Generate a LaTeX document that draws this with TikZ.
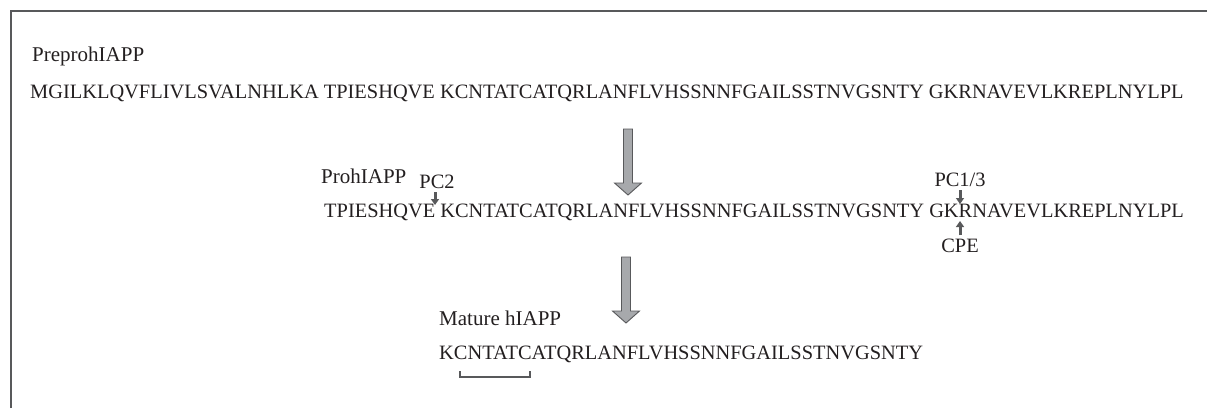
\documentclass[tikz,border=0pt]{standalone}
\usepackage{fontspec}
\setmainfont{Liberation Serif}
\usetikzlibrary{arrows.meta,positioning,calc}

\definecolor{txtgray}{HTML}{231F20}
\definecolor{arrfill}{HTML}{A7A9AC}
\definecolor{arrline}{HTML}{58595B}

\tikzset{
  seq/.style={anchor=base west,inner sep=0pt,font=\fontsize{20.4}{24}\selectfont,text=txtgray},
  formtag/.style={seq,font=\fontsize{21}{24}\selectfont},
  site/.style={seq,anchor=base},
  cut/.style={arrline,line width=3pt,-{Triangle[width=8pt,length=6pt]}},
  bigarrow/.pic={\draw[arrline,fill=arrfill,line width=0.9pt]
    (-4.5,0) -- (-4.5,54) -- (-13.5,54) -- (0,66) -- (13.5,54) -- (4.5,54) -- (4.5,0) -- cycle;}
}

\begin{document}
\begin{tikzpicture}[x=1pt,y=-1pt]
\useasboundingbox (0,0) rectangle (1207,408);

%Frame
\draw[arrline,line width=1.3pt] (11,408) -- (11,11) -- (1207,11);

%Preprohormone
\node[formtag] (prepro) at (32,61) {PreprohIAPP};
\node[seq] (row1) at (30,98) {MGILKLQVFLIVLSVALNHLKA TPIESHQVE KCNTATCATQRLANFLVHSSNNFGAILSSTNVGSNTY GKRNAVEVLKREPLNYLPL};

%Prohormone
\node[formtag] (pro) at (321,183) {ProhIAPP};
\node[seq] (row2) at (324,217) {TPIESHQVE KCNTATCATQRLANFLVHSSNNFGAILSSTNVGSNTY GKRNAVEVLKREPLNYLPL};

%Cleavage sites
\node[site] (pc2) at (437,188) {PC2};
\node[site] (pc13) at (960,186) {PC1/3};
\node[site] (cpe) at (960,252) {CPE};
\coordinate (pc2cut) at (435,205);
\coordinate (pc13cut) at (960,204);
\coordinate (cpecut) at (960,221);
\draw[cut] (pc2.south -| pc2cut) ++(0,4) -- (pc2cut);
\draw[cut] (pc13.south) ++(0,4) -- (pc13cut);
\draw[cut] (cpe.north) ++(0,-3) -- (cpecut);

%Mature peptide
\node[formtag] (mature) at (439,325) {Mature hIAPP};
\node[seq] (row3) at (439,359) {KCNTATCATQRLANFLVHSSNNFGAILSSTNVGSNTY};

%Disulfide bridge
\draw[arrline,line width=1.2pt] (460,371) -- (460,377) -- (530,377) -- (530,371);

%Processing arrows
\pic at (628,129) {bigarrow};
\pic at (626,257) {bigarrow};
\end{tikzpicture}
\end{document}
